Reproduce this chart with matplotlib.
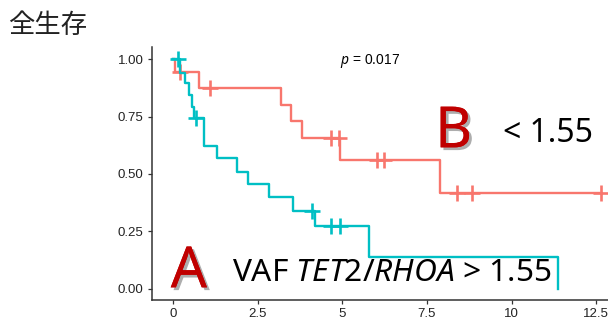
import matplotlib
matplotlib.use("Agg")
import matplotlib.pyplot as plt
import matplotlib.patheffects as pe
from matplotlib import font_manager

# data
# group B (VAF < 1.55)
times_B = [0, 0.05, 0.78, 3.18, 3.49, 3.8, 4.94, 7.89, 12.65]
surv_B = [1.0, 0.942, 0.873, 0.80, 0.73, 0.655, 0.559, 0.418, 0.418]
cens_B = [0.2, 1.1, 4.68, 4.9, 6.04, 6.24, 8.39, 8.83, 12.65]

# group A (VAF > 1.55)
times_A = [0, 0.21, 0.36, 0.46, 0.56, 0.63, 0.92, 1.31, 1.9, 2.21, 2.83, 3.54, 4.19, 5.8, 11.36]
surv_A = [1.0, 0.938, 0.897, 0.843, 0.79, 0.745, 0.62, 0.568, 0.51, 0.457, 0.398, 0.338, 0.274, 0.138, 0.0]
cens_A = [0.15, 0.68, 4.12, 4.66, 4.94]

xticks = [0, 2.5, 5, 7.5, 10, 12.5]
xtick_labels = ["0", "2.5", "5", "7.5", "10", "12.5"]
yticks = [0, 0.25, 0.5, 0.75, 1.0]
ytick_labels = ["0.00", "0.25", "0.50", "0.75", "1.00"]

col_B = "#F8766D"
col_A = "#00BFC4"

names = {f.name for f in font_manager.fontManager.ttflist}
tick_font = "Liberation Sans Narrow" if "Liberation Sans Narrow" in names else "Liberation Sans"

plt.rcParams["mathtext.fontset"] = "custom"
plt.rcParams["mathtext.rm"] = "Noto Sans"
plt.rcParams["mathtext.it"] = "Noto Sans:italic"


def surv_at(times, surv, t):
    s = surv[0]
    for ti, si in zip(times, surv):
        if ti <= t:
            s = si
    return s


fig = plt.figure(figsize=(6.08, 3.27), dpi=100)
ax = fig.add_axes([0.25, 0.0826, 0.75, 0.7734])

ax.step(times_B, surv_B, where="post", color=col_B, lw=1.7)
ax.plot(cens_B, [surv_at(times_B, surv_B, t) for t in cens_B], ls="none",
        marker="+", ms=12, mew=1.9, color=col_B)
ax.step(times_A, surv_A, where="post", color=col_A, lw=1.7)
ax.plot(cens_A, [surv_at(times_A, surv_A, t) for t in cens_A], ls="none",
        marker="+", ms=12, mew=1.9, color=col_A)

ax.set_xlim(-0.62, 12.85)
ax.set_ylim(-0.048, 1.052)
ax.set_xticks(xticks)
ax.set_xticklabels(xtick_labels)
ax.set_yticks(yticks)
ax.set_yticklabels(ytick_labels)
for lab in ax.get_xticklabels() + ax.get_yticklabels():
    lab.set_family(tick_font)
    lab.set_fontsize(9.5)
    lab.set_color("#222222")
ax.tick_params(length=3, width=0.9, color="#333333", pad=3)
for s in ["top", "right"]:
    ax.spines[s].set_visible(False)
for s in ["left", "bottom"]:
    ax.spines[s].set_linewidth(1.1)
    ax.spines[s].set_color("#333333")

ax.text(4.93, 0.99, r"$p$ = 0.017", fontsize=10, family=tick_font, va="center")

shadow = [pe.withSimplePatchShadow(offset=(2, -2), shadow_rgbFace="#777777", alpha=0.6), pe.Normal()]
ax.text(0.47, 0.007, "A", fontsize=41, color="#C00000", family="Noto Sans",
        ha="center", va="baseline", path_effects=shadow)
ax.text(8.29, 0.616, "B", fontsize=41, color="#C00000", family="Noto Sans",
        ha="center", va="baseline", path_effects=shadow)
ax.text(9.75, 0.64, "< 1.55", fontsize=23, family="Noto Sans", va="baseline")
ax.text(1.74, 0.035, r"VAF $TET2/RHOA$ > 1.55", fontsize=22.8, family="Noto Sans", va="baseline")

fig.text(0.013, 0.922, "全生存", fontsize=19, family=["Noto Sans CJK JP", "DejaVu Sans"],
         color="#222222", va="center")

fig.savefig("out.png", dpi=100)
